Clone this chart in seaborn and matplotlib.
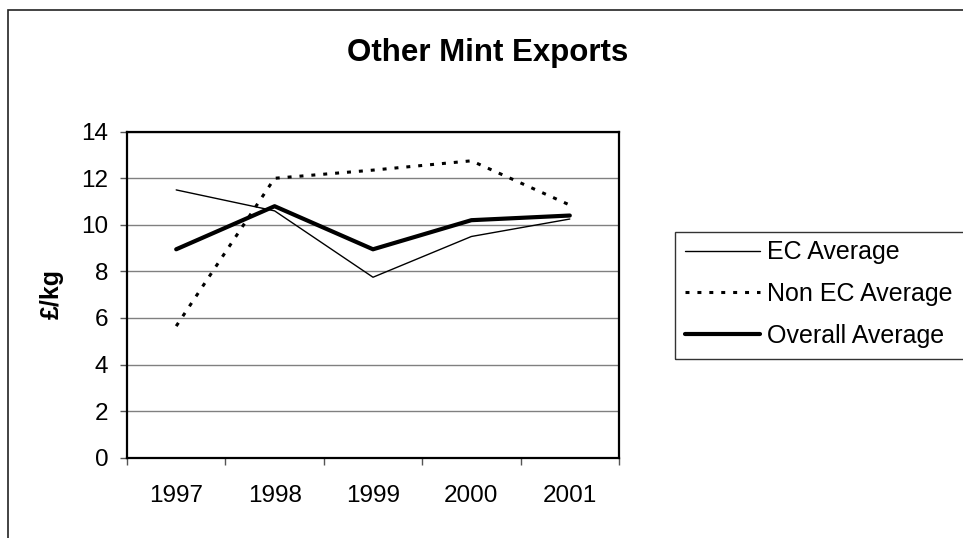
import numpy as np
import pandas as pd
import seaborn as sns
import matplotlib
matplotlib.use("Agg")
import matplotlib.pyplot as plt
from matplotlib.patches import Rectangle

years = ["1997", "1998", "1999", "2000", "2001"]
ec_average = [11.5, 10.6, 7.75, 9.5, 10.25]
non_ec_average = [5.65, 12.0, 12.35, 12.75, 10.85]
overall_average = [8.95, 10.8, 8.95, 10.2, 10.4]
series_names = ["EC Average", "Non EC Average", "Overall Average"]
y_ticks = [0, 2, 4, 6, 8, 10, 12, 14]

sns.set_theme(style="white")
plt.rcParams["font.family"] = ["Liberation Sans", "DejaVu Sans"]

W, H = 963, 538
fig = plt.figure(figsize=(W / 100, H / 100), dpi=100)
fig.patch.set_facecolor("white")

ax = fig.add_axes([127 / W, 1 - 457.7 / H, (619 - 127) / W, (457.7 - 131.7) / H])

xpos = np.arange(len(years))
df = pd.DataFrame({
    "x": np.tile(xpos, 3),
    "value": ec_average + non_ec_average + overall_average,
    "series": np.repeat(series_names, len(years)),
})

styles = {
    "EC Average": dict(lw=1.0, ls="-"),
    "Non EC Average": dict(lw=2.2, ls=(0, (1.3, 2.6))),
    "Overall Average": dict(lw=3.0, ls="-"),
}
handles = []
for name in series_names:
    sub = df[df["series"] == name]
    sns.lineplot(data=sub, x="x", y="value", ax=ax, color="black",
                 linewidth=styles[name]["lw"], linestyle=styles[name]["ls"],
                 label=name, legend=False, zorder=3)
    handles.append(ax.lines[-1])

ax.set_xlim(-0.5, len(years) - 0.5)
ax.set_ylim(0, 14)
ax.set_yticks(y_ticks)
ax.set_yticklabels([str(v) for v in y_ticks])
ax.set_xticks(xpos)
ax.set_xticklabels(years)
ax.set_xticks(np.arange(-0.5, len(years)), minor=True)
ax.grid(axis="y", color="#808080", linewidth=1.0, zorder=1)
ax.grid(axis="x", visible=False)
ax.set_xlabel("")
ax.set_ylabel("")

for sp in ax.spines.values():
    sp.set_visible(True)
    sp.set_color("black")
    sp.set_linewidth(1.6)

ax.tick_params(axis="y", which="major", length=5, width=1, color="#555555",
               direction="out", left=True, labelsize=17.5, pad=8.5, labelcolor="black")
ax.tick_params(axis="x", which="major", length=0, labelsize=17.5, pad=20, labelcolor="black")
ax.tick_params(axis="x", which="minor", length=5, width=1, color="#555555",
               direction="out", bottom=True)

fig.text(488 / W, 1 - 60.7 / H, "Other Mint Exports", ha="center", va="baseline",
         fontsize=22.5, fontweight="bold", color="black")
fig.text(52 / W, 1 - 294 / H, "£/kg", ha="center", va="center", rotation=90,
         fontsize=18, fontweight="bold", color="black")

leg = fig.legend(handles=handles, labels=series_names, loc="center left",
                 bbox_to_anchor=(685 / W, 1 - 294 / H), bbox_transform=fig.transFigure,
                 frameon=False, fontsize=18, handlelength=3.0, handletextpad=0.28,
                 labelspacing=0.7, borderpad=0, borderaxespad=0)
for t in leg.get_texts():
    t.set_color("black")

fig.patches.append(Rectangle((675 / W, 1 - 359 / H), 400 / W, 127 / H,
                             transform=fig.transFigure, fill=False,
                             edgecolor="#333333", linewidth=1.0))
fig.patches.append(Rectangle((8 / W, -0.5), 2.0, 1.5 - 10 / H,
                             transform=fig.transFigure, fill=False,
                             edgecolor="#222222", linewidth=1.2))

fig.savefig("out.png", dpi=100, facecolor="white")
